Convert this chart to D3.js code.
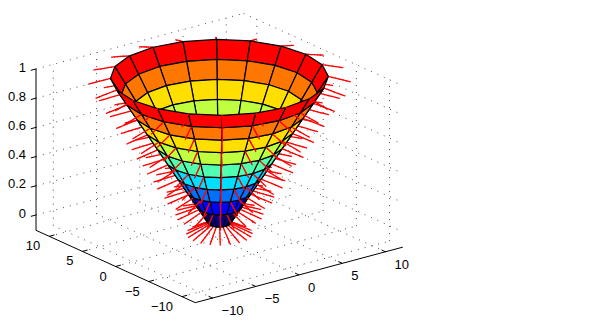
<!DOCTYPE html>
<html>
<head>
<meta charset="utf-8">
<script src="https://cdn.jsdelivr.net/npm/d3@7"></script>
<style>
  html, body { margin: 0; padding: 0; background: #fff; }
  svg { display: block; }
  text { font-family: "Liberation Sans", Arial, sans-serif; font-size: 13px; fill: #000; }
</style>
</head>
<body>
<div id="chart"></div>
<script>
// Cone mesh
var ringRadii = [1, 2, 3, 4, 5, 6, 7, 8, 9, 10];
var ringHeights = [0, 0.111, 0.222, 0.333, 0.444, 0.556, 0.667, 0.778, 0.889, 1];
var meshAngles = [0, 18, 36, 54, 72, 90, 108, 126, 144, 162, 180, 198, 216, 234, 252, 270, 288, 306, 324, 342];
// one colour per band, bottom to top
var bandColors = ['#00008f', '#0000ff', '#0070ff', '#00dfff', '#50ffaf', '#bfff40', '#ffdf00', '#ff7700', '#ff0000'];
// how far a normal reaches outward, and how far it drops, per ring
var normalReach = [2, 2, 2, 2, 2, 2, 2, 2, 2, 2];
var normalDrop = [0.07, 0.05, 0.045, 0.045, 0.045, 0.045, 0.045, 0.04, 0.04, 0.038];

var xTicks = [-10, -5, 0, 5, 10];
var yTicks = [-10, -5, 0, 5, 10];
var zTicks = [0, 0.2, 0.4, 0.6, 0.8, 1];
var xLim = [-12, 12];
var yLim = [-12, 12];
var zLim = [-0.105, 1];

var attrs = {
  width: 599,
  height: 325,
  az: -37.5 * Math.PI / 180,
  el: 20.4 * Math.PI / 180,
  centerX: 219.4,
  centerY: 223.4,
  unit: 10.9,
  zUnit: 155.8,
  normalPieces: 6
};

var svg = d3.select('#chart').append('svg')
  .attr('width', attrs.width)
  .attr('height', attrs.height);

var xScale = d3.scaleLinear().domain(xLim).range([xLim[0] * attrs.unit, xLim[1] * attrs.unit]);
var yScale = d3.scaleLinear().domain(yLim).range([yLim[0] * attrs.unit, yLim[1] * attrs.unit]);
var zScale = d3.scaleLinear().domain([0, 1]).range([0, attrs.zUnit]);

var cosAz = Math.cos(attrs.az), sinAz = Math.sin(attrs.az);
var cosEl = Math.cos(attrs.el), sinEl = Math.sin(attrs.el);

function project(x, y, z) {
  var X = xScale(x), Y = yScale(y), Z = zScale(z);
  return {
    u: attrs.centerX + X * cosAz + Y * sinAz,
    v: attrs.centerY - ((-sinAz * X + cosAz * Y) * sinEl + Z * cosEl),
    depth: cosEl * (sinAz * X - cosAz * Y) + sinEl * Z
  };
}

function segment(a, b) {
  return { a: project(a[0], a[1], a[2]), b: project(b[0], b[1], b[2]) };
}

//----------- grid -----------
var gridData = [];
xTicks.forEach(function (t) {
  gridData.push(segment([t, yLim[0], zLim[0]], [t, yLim[1], zLim[0]]));
  gridData.push(segment([t, yLim[1], zLim[0]], [t, yLim[1], zLim[1]]));
});
yTicks.forEach(function (t) {
  gridData.push(segment([xLim[0], t, zLim[0]], [xLim[1], t, zLim[0]]));
  gridData.push(segment([xLim[1], t, zLim[0]], [xLim[1], t, zLim[1]]));
});
zTicks.forEach(function (t) {
  gridData.push(segment([xLim[0], yLim[1], t], [xLim[1], yLim[1], t]));
  gridData.push(segment([xLim[1], yLim[1], t], [xLim[1], yLim[0], t]));
});

svg.append('g').attr('class', 'grid').selectAll('line')
  .data(gridData).enter().append('line')
  .attr('x1', d => d.a.u).attr('y1', d => d.a.v)
  .attr('x2', d => d.b.u).attr('y2', d => d.b.v)
  .attr('stroke', '#000')
  .attr('stroke-width', 0.7)
  .attr('stroke-dasharray', '1 6');

//----------- axis lines and ticks -----------
var axisData = [
  segment([xLim[0], yLim[1], zLim[0]], [xLim[0], yLim[1], zLim[1]]),
  segment([xLim[0], yLim[1], zLim[0]], [xLim[0], yLim[0], zLim[0]]),
  segment([xLim[0], yLim[0], zLim[0]], [xLim[1], yLim[0], zLim[0]])
];
var tickLen = 0.6;
xTicks.forEach(function (t) {
  axisData.push(segment([t, yLim[0], zLim[0]], [t, yLim[0] + tickLen, zLim[0]]));
});
yTicks.forEach(function (t) {
  axisData.push(segment([xLim[0], t, zLim[0]], [xLim[0] + tickLen, t, zLim[0]]));
});
zTicks.forEach(function (t) {
  axisData.push(segment([xLim[0], yLim[1], t], [xLim[0] - tickLen, yLim[1], t]));
});

svg.append('g').attr('class', 'axes').selectAll('line')
  .data(axisData).enter().append('line')
  .attr('x1', d => d.a.u).attr('y1', d => d.a.v)
  .attr('x2', d => d.b.u).attr('y2', d => d.b.v)
  .attr('stroke', '#000')
  .attr('stroke-width', 1);

//----------- surface and normals share one depth order -----------
function ringPoint(ring, angle) {
  var r = ringRadii[ring], a = angle * Math.PI / 180;
  return [r * Math.cos(a), r * Math.sin(a), ringHeights[ring]];
}

var sceneData = [];
d3.range(bandColors.length).forEach(function (ring) {
  meshAngles.forEach(function (angle, i) {
    var next = meshAngles[(i + 1) % meshAngles.length];
    var corners = [ringPoint(ring, angle), ringPoint(ring, next), ringPoint(ring + 1, next), ringPoint(ring + 1, angle)]
      .map(p => project(p[0], p[1], p[2]));
    sceneData.push({
      kind: 'face',
      points: corners,
      color: bandColors[ring],
      depth: d3.mean(corners, c => c.depth)
    });
  });
});

// each normal is cut in pieces so the surface can hide part of it
ringRadii.forEach(function (r, ring) {
  meshAngles.forEach(function (angle) {
    var a = angle * Math.PI / 180;
    var reach = normalReach[ring], drop = normalDrop[ring];
    d3.range(attrs.normalPieces).forEach(function (k) {
      var f0 = k / attrs.normalPieces, f1 = (k + 1) / attrs.normalPieces;
      var p0 = project((r + reach * f0) * Math.cos(a), (r + reach * f0) * Math.sin(a), ringHeights[ring] - drop * f0);
      var p1 = project((r + reach * f1) * Math.cos(a), (r + reach * f1) * Math.sin(a), ringHeights[ring] - drop * f1);
      sceneData.push({ kind: 'normal', points: [p0, p1], depth: (p0.depth + p1.depth) / 2 + 4 });
    });
  });
});

sceneData.sort((p, q) => p.depth - q.depth);

var scene = svg.append('g').attr('class', 'scene');
sceneData.forEach(function (d) {
  if (d.kind === 'face') {
    scene.append('polygon')
      .attr('points', d.points.map(c => c.u + ',' + c.v).join(' '))
      .attr('fill', d.color)
      .attr('stroke', '#000')
      .attr('stroke-width', 1.2)
      .attr('stroke-linejoin', 'round');
  } else {
    scene.append('line')
      .attr('x1', d.points[0].u).attr('y1', d.points[0].v)
      .attr('x2', d.points[1].u).attr('y2', d.points[1].v)
      .attr('stroke', '#ff0000')
      .attr('stroke-width', 1.3)
      .attr('stroke-linecap', 'round');
  }
});

//----------- tick labels -----------
function fmt(t) {
  return String(t).replace('-', '\u2212');
}

var labels = svg.append('g').attr('class', 'labels');

labels.selectAll('.x-label').data(xTicks).enter().append('text')
  .attr('class', 'x-label')
  .attr('x', d => project(d, yLim[0], zLim[0]).u + 9)
  .attr('y', d => project(d, yLim[0], zLim[0]).v + 12.3)
  .attr('dy', '0.35em')
  .attr('text-anchor', 'start')
  .text(fmt);

labels.selectAll('.y-label').data(yTicks).enter().append('text')
  .attr('class', 'y-label')
  .attr('x', d => project(xLim[0], d, zLim[0]).u - 9)
  .attr('y', d => project(xLim[0], d, zLim[0]).v + 9.5)
  .attr('dy', '0.35em')
  .attr('text-anchor', 'end')
  .text(fmt);

labels.selectAll('.z-label').data(zTicks).enter().append('text')
  .attr('class', 'z-label')
  .attr('x', d => project(xLim[0], yLim[1], d).u - 10)
  .attr('y', d => project(xLim[0], yLim[1], d).v - 2)
  .attr('dy', '0.35em')
  .attr('text-anchor', 'end')
  .text(fmt);
</script>
</body>
</html>
